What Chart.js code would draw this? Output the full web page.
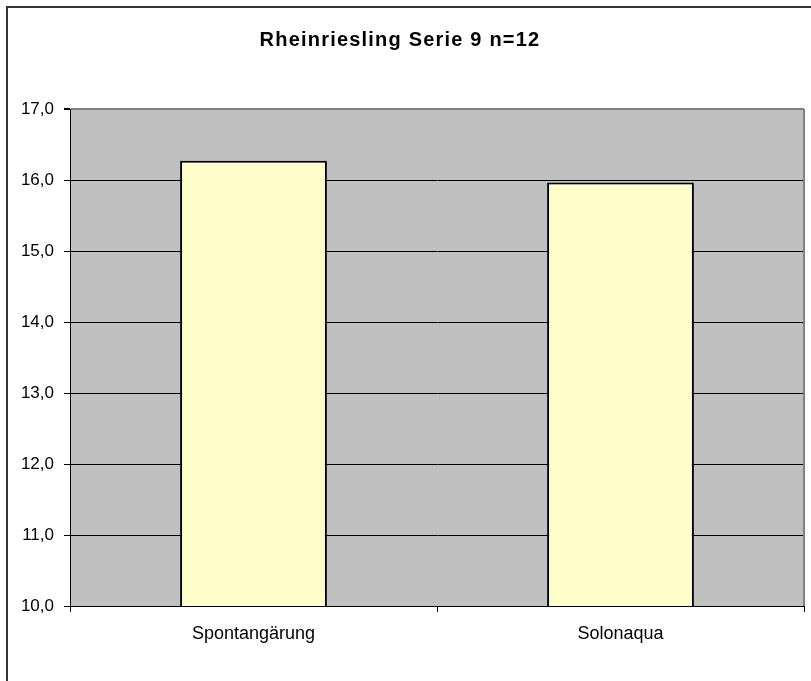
<!DOCTYPE html>
<html>
<head>
<meta charset="utf-8">
<script src="https://cdn.jsdelivr.net/npm/chart.js@4/dist/chart.umd.min.js"></script>
<style>
  html, body { margin: 0; padding: 0; background: #fff; }
  #wrap { position: relative; width: 811px; height: 681px; }
  #frame { position: absolute; left: 6px; top: 6px; right: 0; bottom: 0;
           border-top: 2px solid #333; border-left: 2px solid #333; pointer-events: none; }
  canvas { position: absolute; left: 0; top: 0; }
</style>
</head>
<body>
<div id="wrap">
  <canvas id="c" width="811" height="681"></canvas>
  <div id="frame"></div>
</div>
<script>
const chartTitle = "Rheinriesling Serie 9 n=12";
const categories = ["Spontangärung", "Solonaqua"];
const values = [16.27, 15.965];
const yMin = 10, yMax = 17, yStep = 1;

const plotBg = {
  id: 'plotBg',
  beforeDraw(chart) {
    const {ctx, chartArea: a} = chart;
    ctx.save();
    ctx.fillStyle = '#C0C0C0';
    ctx.fillRect(a.left, a.top, a.right - a.left, a.bottom - a.top);
    ctx.restore();
  },
  afterDatasetsDraw(chart) {
    const {ctx, chartArea: a} = chart;
    ctx.save();
    ctx.strokeStyle = '#808080';
    ctx.lineWidth = 2;
    ctx.beginPath();
    ctx.moveTo(a.right, a.top);
    ctx.lineTo(a.right, a.bottom);
    ctx.stroke();
    ctx.restore();
  },
  afterDraw(chart) {
    const {ctx} = chart;
    ctx.save();
    ctx.font = 'bold 20px "Liberation Sans", Arial, sans-serif';
    if ('letterSpacing' in ctx) ctx.letterSpacing = '1.2px';
    ctx.fillStyle = '#000';
    ctx.textAlign = 'center';
    ctx.textBaseline = 'middle';
    ctx.fillText(chartTitle, 400, 40);
    ctx.restore();
  }
};

new Chart(document.getElementById('c'), {
  type: 'bar',
  data: {
    labels: categories,
    datasets: [{
      data: values,
      backgroundColor: '#FFFFCC',
      borderColor: '#000',
      borderWidth: 2,
      borderSkipped: 'bottom',
      barPercentage: 0.4,
      categoryPercentage: 1.0
    }]
  },
  options: {
    responsive: false,
    animation: false,
    devicePixelRatio: 1,
    layout: { padding: { top: 109, right: 7, left: 0, bottom: 0 } },
    plugins: { legend: { display: false }, tooltip: { enabled: false }, title: { display: false } },
    scales: {
      x: {
        offset: true,
        grid: { display: true, drawOnChartArea: false, offset: true, tickLength: 6, color: '#000', lineWidth: 1 },
        border: { display: true, color: '#000', width: 1 },
        ticks: { color: '#000', font: { family: '"Liberation Sans", Arial, sans-serif', size: 18 }, padding: 11, maxRotation: 0 },
        afterFit(scale) { scale.height = 75; }
      },
      y: {
        min: yMin, max: yMax,
        grid: {
          color: (c) => (c.tick && c.tick.value === yMax) ? '#808080' : '#000',
          lineWidth: (c) => (c.tick && c.tick.value === yMax) ? 2 : 1,
          tickColor: '#000',
          tickLength: 6
        },
        border: { display: true, color: '#000', width: 1 },
        ticks: {
          stepSize: yStep,
          color: '#000',
          padding: 10,
          font: { family: '"Liberation Sans", Arial, sans-serif', size: 17 },
          callback: (v) => v.toFixed(1).replace('.', ',')
        },
        afterFit(scale) { scale.width = 70; }
      }
    }
  },
  plugins: [plotBg]
});
</script>
</body>
</html>
